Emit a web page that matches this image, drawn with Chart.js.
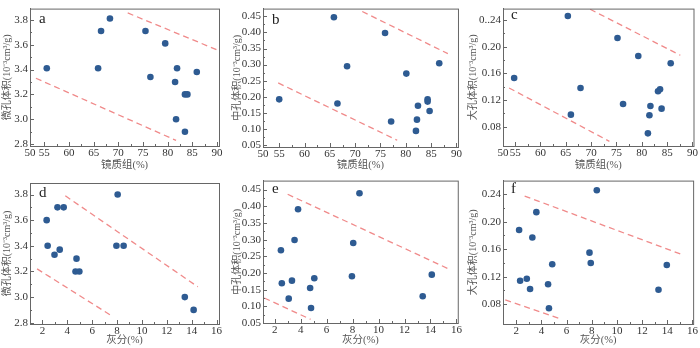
<!DOCTYPE html>
<html>
<head>
<meta charset="utf-8">
<script src="https://cdn.jsdelivr.net/npm/chart.js@4"></script>
<style>
  body { margin:0; background:#fff; }
  #wrap { position:relative; width:700px; height:348px; overflow:hidden; }
  .pan { position:absolute; }
</style>
</head>
<body>
<div id="wrap">
  <div class="pan" style="left:0;top:0;width:230px;height:171px"><canvas id="ca"></canvas></div>
  <div class="pan" style="left:230px;top:0;width:234px;height:171px"><canvas id="cb"></canvas></div>
  <div class="pan" style="left:466px;top:0;width:234px;height:171px"><canvas id="cc"></canvas></div>
  <div class="pan" style="left:0;top:172px;width:230px;height:174px"><canvas id="cd"></canvas></div>
  <div class="pan" style="left:230px;top:172px;width:234px;height:174px"><canvas id="ce"></canvas></div>
  <div class="pan" style="left:466px;top:172px;width:234px;height:174px"><canvas id="cf"></canvas></div>
</div>
<script>
// vitrinite (%) vs pore volume
let vitA=[55.5,65.9,66.5,68.3,75.5,79.5,76.5,81.9,81.5,85.9,83.5,84.0,81.7,83.5];
let microA=[3.41,3.41,3.71,3.81,3.71,3.61,3.34,3.41,3.30,3.38,3.20,3.20,3.00,2.90];
let vitB=[55.0,65.8,66.5,68.4,75.9,77.1,80.1,82.0,82.2,82.4,84.3,84.3,84.7,86.6];
let mesoB=[0.192,0.447,0.179,0.295,0.398,0.123,0.272,0.094,0.129,0.172,0.192,0.185,0.156,0.304];
let vitC=[54.8,65.4,67.9,66.0,75.2,76.3,79.3,81.7,81.5,81.2,83.2,83.6,83.9,85.7];
let macroC=[0.153,0.246,0.138,0.098,0.213,0.114,0.186,0.111,0.097,0.070,0.133,0.136,0.107,0.175];
// ash (%) vs pore volume
let ashD=[2.34,2.42,2.97,3.21,3.71,3.39,4.74,4.66,4.97,8.05,7.95,8.53,13.45,14.16];
let microD=[3.60,3.40,3.33,3.70,3.70,3.37,3.30,3.20,3.20,3.80,3.40,3.40,3.00,2.90];
let ashE=[2.48,2.55,3.08,3.33,3.53,3.80,4.73,4.80,5.05,7.95,8.05,8.53,13.4,14.1];
let mesoE=[0.268,0.169,0.123,0.177,0.299,0.391,0.155,0.095,0.184,0.190,0.290,0.439,0.130,0.195];
let ashF=[2.23,2.31,2.84,3.10,3.28,3.60,4.53,4.60,4.86,7.82,7.92,8.40,13.3,13.96];
let macroF=[0.188,0.114,0.117,0.102,0.177,0.214,0.109,0.074,0.138,0.155,0.140,0.246,0.101,0.137];

// dashed envelope lines [x1,x2],[y1,y2]
let upA=[[71.9,89.9],[3.855,3.56]], lowA=[[53.3,81.7],[3.33,2.83]];
let upB=[[71.4,88.3],[0.465,0.334]], lowB=[[54.8,78.3],[0.243,0.065]];
let upC=[[69.8,87.6],[0.256,0.187]], lowC=[[53.8,73.6],[0.138,0.058]];
let upD=[[3.84,14.5],[3.79,3.08]], lowD=[[1.57,7.63],[3.22,2.85]];
let upE=[[3.0,15.3],[0.436,0.214]], lowE=[[1.2,4.76],[0.125,0.061]];
let upF=[[2.67,15.05],[0.2375,0.153]], lowF=[[1.13,5.44],[0.086,0.059]];

// tick labels
let vitTicks=[55,60,65,70,75,80,85,90];
let ashTicks=[2,4,6,8,10,12,14,16];
let microTicks=[2.8,3.0,3.2,3.4,3.6,3.8];
let mesoTicks=[0.05,0.10,0.15,0.20,0.25,0.30,0.35,0.40,0.45];
let macroTicks=[0.08,0.12,0.16,0.20,0.24];

let dotCol="#2e5b92";
let dashCol="#f08a8a";
let axCol="#666";
let fnt="'Liberation Serif','Noto Sans CJK SC',serif";

function pts(xs,ys){
  let out=[];
  for(let i=0;i<xs.length;i++){ out.push({x:xs[i],y:ys[i]}); }
  return out;
}

// frame, inward ticks and panel letter
let boxPlugin={
  id:"box",
  afterDraw(chart,args,opts){
    let c=chart.ctx, a=chart.chartArea;
    let sx=chart.scales.x, sy=chart.scales.y;
    c.save();
    c.strokeStyle=axCol;
    c.lineWidth=1;
    c.strokeRect(a.left+0.5,a.top+0.5,a.right-a.left,a.bottom-a.top);
    c.beginPath();
    let xt=opts.xt, yt=opts.yt;
    for(let i=0;i<xt.length;i++){
      let px=Math.round(sx.getPixelForValue(xt[i]))+0.5;
      c.moveTo(px,a.bottom); c.lineTo(px,a.bottom-4);
      if(i>0){
        let mx=Math.round(sx.getPixelForValue((xt[i]+xt[i-1])/2))+0.5;
        c.moveTo(mx,a.bottom); c.lineTo(mx,a.bottom-2);
      }
    }
    for(let i=0;i<yt.length;i++){
      let py=Math.round(sy.getPixelForValue(yt[i]))+0.5;
      c.moveTo(a.left,py); c.lineTo(a.left+4,py);
      if(i>0){
        let my=Math.round(sy.getPixelForValue((yt[i]+yt[i-1])/2))+0.5;
        c.moveTo(a.left,my); c.lineTo(a.left+2,my);
      }
    }
    c.stroke();
    c.fillStyle="#222";
    c.font="15px "+fnt;
    c.textBaseline="middle";
    c.fillText(opts.letter,a.left+opts.dx,a.top+opts.dy);
    c.restore();
  }
};

function make(id,p){
  new Chart(document.getElementById(id),{
    type:"scatter",
    data:{datasets:[
      {data:pts(p.xs,p.ys),backgroundColor:dotCol,borderColor:dotCol,pointRadius:3.3,pointHoverRadius:3.3,borderWidth:0},
      {data:pts(p.up[0],p.up[1]),showLine:true,borderColor:dashCol,borderWidth:1.3,borderDash:[6,4],pointRadius:0},
      {data:pts(p.low[0],p.low[1]),showLine:true,borderColor:dashCol,borderWidth:1.3,borderDash:[6,4],pointRadius:0}
    ]},
    options:{
      animation:false,
      responsive:true,
      maintainAspectRatio:false,
      layout:{padding:{top:p.padTop,right:p.padRight,left:0,bottom:0}},
      plugins:{legend:{display:false},tooltip:{enabled:false},
        box:{letter:p.letter,dx:p.ldx,dy:p.ldy,xt:p.xt,yt:p.yt}},
      scales:{
        x:{
          type:"linear",min:p.xmin,max:p.xmax,
          afterBuildTicks:function(s){
            let t=p.xt.map(v=>({value:v}));
            if(p.xfirst) t.unshift({value:p.xmin});
            s.ticks=t;
          },
          afterFit:function(s){ s.height=p.xh; },
          ticks:{autoSkip:false,maxRotation:0,padding:2,color:"#333",font:{family:fnt,size:11,lineHeight:1},
            callback:function(v){ if(p.xfirst && v===p.xmin) return p.xfirst; return v; }},
          grid:{display:false,drawTicks:false},
          border:{color:axCol},
          title:{display:true,text:p.xtitle,color:"#555",font:{family:fnt,size:10.5,lineHeight:1},padding:{top:0,bottom:1}}
        },
        y:{
          type:"linear",min:p.ymin,max:p.ymax,
          afterBuildTicks:function(s){ s.ticks=p.yt.map(v=>({value:v})); },
          afterFit:function(s){ s.width=p.yw; },
          ticks:{autoSkip:false,padding:2,color:"#333",font:{family:fnt,size:11},
            callback:function(v){ if(p.ytop && v===p.yt[p.yt.length-1]) return p.ytop; return v.toFixed(p.yd); }},
          grid:{display:false,drawTicks:false},
          border:{color:axCol},
          title:{display:true,text:p.ytitle,color:"#555",font:{family:fnt,size:10,lineHeight:1},padding:{top:2,bottom:0}}
        }
      }
    },
    plugins:[boxPlugin]
  });
}

let tVit="镜质组(%)", tAsh="灰分(%)";
let tMic="微孔体积(10⁻³cm³/g)", tMes="中孔体积(10⁻³cm³/g)", tMac="大孔体积(10⁻³cm³/g)";

make("ca",{xs:vitA,ys:microA,up:upA,low:lowA,xmin:52.1,xmax:90.4,xt:vitTicks,xfirst:"50",
  ymin:2.785,ymax:3.89,yt:microTicks,yd:1,xtitle:tVit,ytitle:tMic,yw:30,xh:25,padTop:4,padRight:11,letter:"a",ldx:9,ldy:10});
make("cb",{xs:vitB,ys:mesoB,up:upB,low:lowB,xmin:51.8,xmax:90.3,xt:vitTicks,xfirst:"50",
  ymin:0.044,ymax:0.474,yt:mesoTicks,yd:2,xtitle:tVit,ytitle:tMes,yw:33,xh:24,padTop:2,padRight:5,letter:"b",ldx:9,ldy:11});
make("cc",{xs:vitC,ys:macroC,up:upC,low:lowC,xmin:52.6,xmax:90.2,xt:vitTicks,xfirst:"50",
  ymin:0.051,ymax:0.257,yt:macroTicks,yd:2,ytop:"0..24",xtitle:tVit,ytitle:tMac,yw:37,xh:25,padTop:4,padRight:3,letter:"c",ldx:8,ldy:6});
make("cd",{xs:ashD,ys:microD,up:upD,low:lowD,xmin:1.0,xmax:16.2,xt:ashTicks,
  ymin:2.79,ymax:3.89,yt:microTicks,yd:1,xtitle:tAsh,ytitle:tMic,yw:30,xh:22,padTop:11,padRight:11,letter:"d",ldx:9,ldy:10});
make("ce",{xs:ashE,ys:mesoE,up:upE,low:lowE,xmin:1.1,xmax:16.1,xt:ashTicks,
  ymin:0.05,ymax:0.477,yt:mesoTicks,yd:2,xtitle:tAsh,ytitle:tMes,yw:33,xh:23,padTop:7,padRight:5,letter:"e",ldx:9,ldy:8});
make("cf",{xs:ashF,ys:macroF,up:upF,low:lowF,xmin:0.95,xmax:16.05,xt:ashTicks,
  ymin:0.051,ymax:0.26,yt:macroTicks,yd:2,xtitle:tAsh,ytitle:tMac,yw:37,xh:22,padTop:7,padRight:3,letter:"f",ldx:8,ldy:8});
</script>
</body>
</html>
